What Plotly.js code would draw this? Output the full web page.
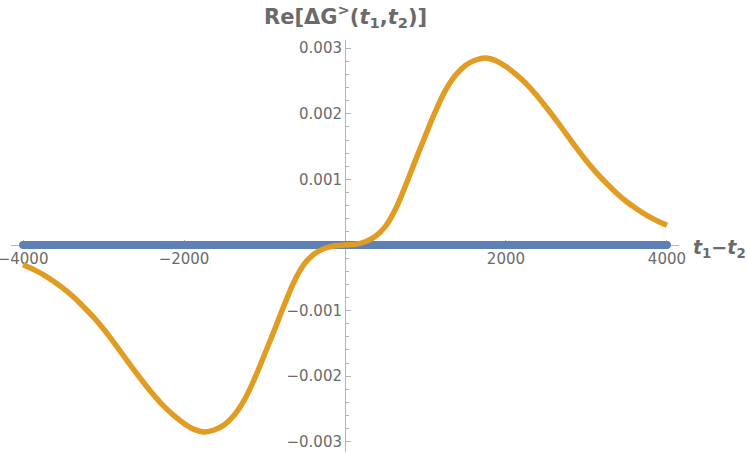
<!DOCTYPE html>
<html>
<head>
<meta charset="utf-8">
<script src="https://cdn.plot.ly/plotly-3.0.1.min.js"></script>
<style>
  html, body { margin: 0; padding: 0; background: #fff; }
  #chart { width: 747px; height: 453px; }
</style>
</head>
<body>
<div id="chart"></div>
<script>
// time difference t1 - t2
var tValues = [-4000, -3875, -3750, -3625, -3500, -3375, -3250, -3125, -3000, -2875, -2750, -2625, -2500, -2375, -2250, -2125,
  -2000, -1875, -1750, -1625, -1500, -1375, -1250, -1125, -1000, -875, -750, -625, -500, -375, -250, -125,
  0, 125, 250, 375, 500, 625, 750, 875, 1000, 1125, 1250, 1375, 1500, 1625, 1750, 1875,
  2000, 2125, 2250, 2375, 2500, 2625, 2750, 2875, 3000, 3125, 3250, 3375, 3500, 3625, 3750, 3875, 4000];

// blue series: flat at zero
var blueT = [-4000, -3000, -2000, -1000, 0, 1000, 2000, 3000, 4000];
var blueValues = [0, 0, 0, 0, 0, 0, 0, 0, 0];

// orange series: Re[dG>(t1,t2)]
var orangeValues = [-0.00030, -0.00037, -0.00045, -0.00055, -0.00066, -0.00079, -0.00094, -0.00110, -0.00128, -0.00148, -0.00169, -0.00190, -0.00210, -0.00229, -0.00246, -0.00260,
  -0.00272, -0.00281, -0.00285, -0.00282, -0.00274, -0.00259, -0.00236, -0.00204, -0.00167, -0.00129, -0.00090, -0.00054, -0.00028, -0.00013, -0.00005, -0.00001,
  0, 0.00001, 0.00005, 0.00013, 0.00028, 0.00054, 0.00090, 0.00129, 0.00167, 0.00204, 0.00236, 0.00259, 0.00274, 0.00282, 0.00285, 0.00281,
  0.00272, 0.00260, 0.00246, 0.00229, 0.00210, 0.00190, 0.00169, 0.00148, 0.00128, 0.00110, 0.00094, 0.00079, 0.00066, 0.00055, 0.00045, 0.00037, 0.00030];

// tick labels (no label at the origin)
var xTickVals = [-4000, -2000, 2000, 4000];
var xTickText = ["\u22124000", "\u22122000", "2000", "4000"];
var yTickVals = [-0.003, -0.002, -0.001, 0.001, 0.002, 0.003];
var yTickText = ["\u22120.003", "\u22120.002", "\u22120.001", "0.001", "0.002", "0.003"];

var xRange = [-4150, 4150];
var yRange = [-0.003155, 0.003125];

var axisGray = "#b4b4b4";
var textGray = "#6a6a6a";

var blueTrace = {
  x: blueT,
  y: blueValues,
  type: "scatter",
  mode: "lines+markers",
  line: { color: "#5E81B5", width: 8 },
  marker: { color: "#5E81B5", size: 8 },
  hoverinfo: "skip"
};

var orangeTrace = {
  x: tValues,
  y: orangeValues,
  type: "scatter",
  mode: "lines",
  line: { color: "#E19C24", width: 5.5, shape: "spline", smoothing: 1.2 },
  hoverinfo: "skip"
};

// put each axis through the origin
var xPos = (0 - yRange[0]) / (yRange[1] - yRange[0]);
var yPos = (0 - xRange[0]) / (xRange[1] - xRange[0]);

var layout = {
  width: 747,
  height: 453,
  margin: { l: 11, r: 68, t: 40, b: 1 },
  paper_bgcolor: "#fff",
  plot_bgcolor: "#fff",
  showlegend: false,
  font: { family: "DejaVu Sans", color: textGray, size: 15 },
  xaxis: {
    range: xRange,
    anchor: "free",
    position: xPos,
    layer: "below traces",
    showline: true,
    linecolor: axisGray,
    linewidth: 1,
    showgrid: false,
    zeroline: false,
    tickmode: "array",
    tickvals: xTickVals,
    ticktext: xTickText,
    ticklabeloverflow: "allow",
    ticks: "inside",
    ticklen: 5,
    tickcolor: axisGray,
    minor: { tickmode: "linear", tick0: 0, dtick: 500, ticks: "inside", ticklen: 3, tickcolor: axisGray },
    tickfont: { family: "DejaVu Sans", size: 15, color: textGray }
  },
  yaxis: {
    range: yRange,
    anchor: "free",
    position: yPos,
    layer: "below traces",
    showline: true,
    linecolor: axisGray,
    linewidth: 1,
    showgrid: false,
    zeroline: false,
    tickmode: "array",
    tickvals: yTickVals,
    ticktext: yTickText,
    ticklabeloverflow: "allow",
    ticks: "inside",
    ticklen: 5,
    tickcolor: axisGray,
    minor: { tickmode: "linear", tick0: 0, dtick: 0.0002, ticks: "inside", ticklen: 3, tickcolor: axisGray },
    tickfont: { family: "DejaVu Sans", size: 15, color: textGray }
  },
  annotations: [
    {
      text: "<b>Re[\u0394G<sup>&gt;</sup>(<i>t</i><sub>1</sub>,<i>t</i><sub>2</sub>)]</b>",
      xref: "paper", yref: "paper",
      x: yPos, y: 1.058,
      xanchor: "center", yanchor: "middle",
      showarrow: false,
      font: { family: "DejaVu Sans", size: 21, color: textGray }
    },
    {
      text: "<b><i>t</i><sub>1</sub>\u2212<i>t</i><sub>2</sub></b>",
      xref: "paper", yref: "paper",
      x: 1.018, y: 0.495,
      xanchor: "left", yanchor: "middle",
      showarrow: false,
      font: { family: "DejaVu Sans", size: 19, color: textGray }
    }
  ]
};

Plotly.newPlot("chart", [blueTrace, orangeTrace], layout, { displayModeBar: false, staticPlot: true });
</script>
</body>
</html>
